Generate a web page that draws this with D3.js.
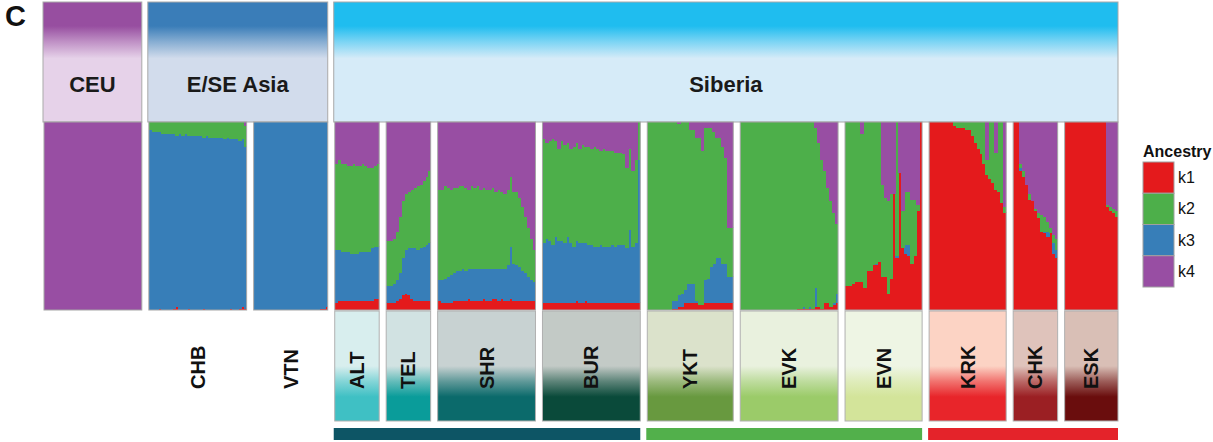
<!DOCTYPE html>
<html><head><meta charset="utf-8">
<script src="https://cdn.jsdelivr.net/npm/d3@7"></script>
<style>
body{margin:0;background:#fff;}
svg{display:block;font-family:"Liberation Sans",Arial,Helvetica,sans-serif;}
</style>
</head><body>
<svg id="chart" width="1213" height="442"></svg>
<script>
// ---------------- DATA ----------------
const populations = ["CEU","CHB","VTN","ALT","TEL","SHR","BUR","YKT","EVK","EVN","KRK","CHK","ESK"];
const regionOfPop = ["CEU","E/SE Asia","E/SE Asia","Siberia","Siberia","Siberia","Siberia","Siberia","Siberia","Siberia","Siberia","Siberia","Siberia"];
const regions = ["CEU","E/SE Asia","Siberia"];
const groupOfPop = [null,null,null,"A","A","A","A","B","B","B","C","C","C"];
const groups = ["A","B","C"];
const boxedLabel = [false,false,false,true,true,true,true,true,true,true,true,true,true];
const shownLabel = [false,true,true,true,true,true,true,true,true,true,true,true,true];
const ancestryKeys = ["k1","k2","k3","k4"];
// every individual below lists its shares top -> bottom as drawn: [k4, k2, k3, k1]
const tupleOrder = ["k4","k2","k3","k1"];
const stackOrder = ["k1","k3","k2","k4"]; // bottom -> top

const CEU = [[100,0,0,0],[100,0,0,0],[100,0,0,0],[100,0,0,0],[100,0,0,0],[100,0,0,0],[100,0,0,0],[100,0,0,0],[100,0,0,0],[100,0,0,0],[100,0,0,0],
  [100,0,0,0],[100,0,0,0],[100,0,0,0],[100,0,0,0],[100,0,0,0],[100,0,0,0],[100,0,0,0],[100,0,0,0],[100,0,0,0],[100,0,0,0],[100,0,0,0],
  [100,0,0,0],[100,0,0,0],[100,0,0,0],[100,0,0,0],[100,0,0,0],[100,0,0,0],[100,0,0,0],[100,0,0,0],[100,0,0,0],[100,0,0,0],[100,0,0,0]];
const CHB = [[0,4,96,0],[0,5,95,0],[0,5,95,0],[0,5,94,1],[0,6,94,0],[0,6,94,0],[0,6,94,0],[0,6,94,0],[0,6,93,1],[0,7,91,2],[0,6,94,0],
  [0,7,93,0],[0,6,94,0],[0,7,92,1],[0,7,93,0],[0,7,93,0],[0,7,93,0],[0,7,93,0],[0,8,91,1],[0,7,93,0],[0,8,92,0],[0,8,92,0],
  [0,8,92,0],[0,8,92,0],[0,8,92,0],[0,9,91,0],[0,8,92,0],[0,9,90,1],[0,9,91,0],[0,9,91,0],[0,10,89,1],[0,9,89,2],[2,11,86,1]];
const VTN = [[0,0,100,0],[0,0,100,0],[0,0,100,0],[0,0,100,0],[0,0,100,0],[0,0,100,0],[0,0,100,0],[0,0,100,0],[0,0,100,0],[0,0,100,0],
  [0,0,100,0],[0,0,100,0],[0,0,100,0],[0,0,100,0],[0,0,100,0],[0,0,100,0],[0,0,100,0],[0,0,100,0],[0,0,100,0],[0,0,100,0],
  [0,0,100,0],[0,0,100,0],[0,0,99,1],[0,0,99,1],[0,0,98,2]];
const ALT = [[22,46,28,4],[20,48,27,5],[22,47,26,5],[22,47,26,5],[23,46,26,5],[23,47,25,5],[22,48,25,5],[23,47,25,5],
  [23,46,26,5],[22,47,26,5],[23,46,26,5],[24,45,26,5],[24,43,28,5],[23,43,28,6],[22,44,28,6]];
const TEL = [[63,24,9,4],[63,24,9,4],[62,24,10,4],[58,26,11,5],[50,30,14,6],[42,30,20,8],[38,30,23,9],[37,30,25,8],
  [36,31,27,6],[35,32,28,5],[34,34,27,5],[33,34,28,5],[31,35,29,5],[29,36,30,5],[26,38,31,5]];
const SHR = [[36,48,11,5],[36,48,12,4],[34,49,13,4],[35,47,14,4],[36,45,15,4],[35,45,15,5],[35,44,16,5],[34,45,16,5],
  [34,44,17,5],[35,44,16,5],[36,42,16,6],[34,44,17,5],[35,43,17,5],[34,44,17,5],[36,42,17,5],[35,43,16,6],[36,42,17,5],
  [36,42,17,5],[35,43,16,6],[37,41,16,6],[36,42,17,5],[37,41,16,6],[38,40,17,5],[36,40,19,5],[29,37,28,6],[37,38,20,5],
  [37,39,19,5],[40,37,18,5],[45,34,16,5],[50,30,15,5],[56,26,13,5],[62,22,11,5],[68,17,10,5]];
const BUR = [[9,55,32,4],[11,51,34,4],[10,53,33,4],[9,56,31,4],[10,51,35,4],[14,49,33,4],[10,53,33,4],[12,52,32,4],
  [11,50,35,4],[14,50,32,4],[13,53,30,4],[11,52,32,5],[14,50,32,4],[12,52,32,4],[13,51,31,5],[13,52,31,4],[14,51,31,4],
  [13,53,30,4],[14,52,30,4],[15,50,31,4],[14,52,30,4],[15,51,30,4],[15,51,30,4],[15,50,31,4],[16,50,30,4],[16,49,31,4],
  [16,49,31,4],[17,48,31,4],[24,43,29,4],[14,43,39,4],[26,40,30,4],[20,44,32,4],[0,20,76,4]];
const YKT = [[0,100,0,0],[0,100,0,0],[0,100,0,0],[0,100,0,0],[0,100,0,0],[0,100,0,0],[0,100,0,0],[0,100,0,0],
  [0,95,4,1],[0,95,4,1],[1,91,6,2],[0,91,7,2],[0,89,7,4],[0,86,10,4],[4,82,10,4],[4,82,10,4],[8,87,1,4],[8,89,0,3],
  [15,82,0,3],[3,81,12,4],[3,80,13,4],[3,74,19,4],[5,70,21,4],[8,64,24,4],[8,64,24,4],[13,62,21,4],[19,56,21,4],
  [56,26,14,4],[56,26,14,4]];
const EVK = [[0,100,0,0],[0,100,0,0],[0,100,0,0],[0,100,0,0],[0,100,0,0],[0,100,0,0],[0,100,0,0],[0,100,0,0],[0,100,0,0],
  [0,100,0,0],[0,100,0,0],[0,100,0,0],[0,100,0,0],[0,100,0,0],[0,100,0,0],[0,100,0,0],[0,100,0,0],[0,100,0,0],[0,100,0,0],
  [0,99,0,1],[0,99,0,1],[0,98,1,1],[0,99,0,1],[0,98,1,1],[0,99,0,1],[3,85,10,2],[11,87,0,2],[20,79,0,1],[26,70,0,4],
  [35,61,0,4],[42,56,0,2],[48,48,1,3],[54,37,5,4]];
const EVN = [[0,87,0,13],[0,87,0,13],[0,86,0,14],[0,85,0,15],[0,85,0,15],[6,79,0,15],[0,88,0,12],[0,79,0,21],[0,79,0,21],
  [0,76,0,24],[0,75,1,24],[0,74,0,26],[33,49,0,18],[40,42,0,18],[42,49,0,9],[38,45,0,17],[38,0,0,62],[0,71,1,28],
  [27,0,0,73],[47,20,0,33],[37,28,5,30],[37,28,6,29],[41,34,0,25],[41,30,0,29],[44,3,0,53],[0,0,0,100]];
const KRK = [[0,0,0,100],[0,0,0,100],[0,0,0,100],[0,0,0,100],[0,0,0,100],[0,0,0,100],[0,0,0,100],[0,0,0,100],
  [0,2,0,98],[0,3,0,97],[0,3,0,97],[0,3,0,97],[0,4,0,96],[0,4,0,96],[0,7,0,93],[0,11,0,89],[0,14,0,86],[0,17,0,83],
  [0,22,0,78],[20,8,0,72],[0,30,0,70],[0,32,0,68],[16,20,0,64],[0,37,0,63],[0,43,0,57],[45,3,0,52]];
const CHK = [[0,0,0,100],[0,0,0,100],[22,2,2,74],[26,3,0,71],[33,0,0,67],[38,3,0,59],[42,0,0,58],[46,1,0,53],
  [48,3,0,49],[49,9,0,42],[50,8,1,41],[53,5,3,39],[56,3,0,41],[60,4,6,30],[62,6,4,28]];
const ESK = [[0,0,0,100],[0,0,0,100],[0,0,0,100],[0,0,0,100],[0,0,0,100],[0,0,0,100],[0,0,0,100],[0,0,0,100],[0,0,0,100],
  [0,0,0,100],[0,0,0,100],[0,0,0,100],[0,0,0,100],[0,0,0,100],[44,1,0,55],[45,2,0,53],[46,2,0,52],[47,3,0,50]];
const popData = [CEU,CHB,VTN,ALT,TEL,SHR,BUR,YKT,EVK,EVN,KRK,CHK,ESK];

// ---------------- STYLE ----------------
const ancestryColor = d3.scaleOrdinal().domain(ancestryKeys).range(["#e41a1c","#4daf4a","#377eb8","#984ea3"]);
const regionTop = {"CEU":"#974ea0","E/SE Asia":"#3a7db8","Siberia":"#1fbdef"};
const regionBottom = {"CEU":"#e6d2e9","E/SE Asia":"#d2dcec","Siberia":"#d6ebf8"};
const labelTop = ["#fff","#fff","#fff","#d8eeee","#d1e2e2","#c8d2d2","#c3cac6","#dbe2cb","#e9f1de","#eef5e4","#fcd3c4","#dfc3bb","#d9bfb6"];
const labelBottom = ["#fff","#fff","#fff","#3fc0c4","#0a9c9a","#0b6a6b","#0a4a3a","#68993f","#9bcb69","#d3e49a","#e8252a","#9b1f23","#6a0d0d"];
const groupColor = {"A":"#0d5565","B":"#52b04b","C":"#e4232a"};

// ---------------- LAYOUT ----------------
const svg = d3.select("#chart");
const defs = svg.append("defs");
const plotLeft = 44, plotRight = 1118, gapPx = 7;
const panelTop = 122, panelBottom = 310;
const sizes = popData.map(d => d.length);
const total = d3.sum(sizes);
const unitScale = d3.scaleLinear().domain([0, total]).range([0, (plotRight - plotLeft) - gapPx * (populations.length - 1)]);
const cum = d3.cumsum([0, ...sizes]);
const panels = populations.map((p, i) => ({
  name: p, i,
  x0: plotLeft + unitScale(cum[i]) + i * gapPx,
  x1: plotLeft + unitScale(cum[i + 1]) + i * gapPx
}));
const y = d3.scaleLinear().domain([0, 100]).range([panelBottom, panelTop]);

// "C" panel letter
svg.append("text").attr("x", 5).attr("y", 26).attr("font-size", 29).attr("font-weight", "bold").attr("fill", "#111").text("C");

// Region headers
function vGrad(id, stops) {
  const g = defs.append("linearGradient").attr("id", id).attr("x1", 0).attr("y1", 0).attr("x2", 0).attr("y2", 1);
  stops.forEach(s => g.append("stop").attr("offset", s[0]).attr("stop-color", s[1]));
  return `url(#${id})`;
}
regions.forEach((r, ri) => {
  const ps = panels.filter(p => regionOfPop[p.i] === r);
  const x0 = d3.min(ps, p => p.x0) - 1, x1 = d3.max(ps, p => p.x1);
  const fill = vGrad("rg" + ri, [[0, regionTop[r]], [0.2, regionTop[r]], [0.33, d3.interpolateRgb(regionTop[r], regionBottom[r])(0.5)], [0.47, regionBottom[r]], [1, regionBottom[r]]]);
  svg.append("rect").attr("x", x0).attr("y", 2).attr("width", x1 - x0).attr("height", panelTop - 2)
    .attr("fill", fill).attr("stroke", "#a9a9a9").attr("stroke-width", 1);
  svg.append("text").attr("x", (x0 + x1) / 2).attr("y", 92).attr("text-anchor", "middle")
    .attr("font-size", 22).attr("font-weight", "bold").attr("fill", "#1a1a1a").text(r);
});

// Stacked ancestry bars
const stackGen = d3.stack().keys(stackOrder);
panels.forEach(p => {
  const records = popData[p.i].map(t => {
    const o = {};
    tupleOrder.forEach((k, j) => o[k] = t[j]);
    return o;
  });
  const series = stackGen(records);
  const xb = d3.scaleBand().domain(d3.range(records.length)).range([p.x0, p.x1]).padding(0);
  defs.append("clipPath").attr("id", "clip" + p.i).append("rect")
    .attr("x", p.x0).attr("y", panelTop).attr("width", p.x1 - p.x0).attr("height", panelBottom - panelTop);
  const g = svg.append("g").attr("clip-path", `url(#clip${p.i})`).attr("shape-rendering", "crispEdges");
  series.forEach(s => {
    g.selectAll(null).data(s.filter(d => d[1] - d[0] > 0).map(d => ({d, i: s.indexOf(d)}))).join("rect")
      .attr("x", e => xb(e.i))
      .attr("width", xb.bandwidth() + 0.8)
      .attr("y", e => y(e.d[1]))
      .attr("height", e => y(e.d[0]) - y(e.d[1]) + 0.5)
      .attr("fill", ancestryColor(s.key));
  });
  svg.append("rect").attr("x", p.x0).attr("y", panelTop).attr("width", p.x1 - p.x0).attr("height", panelBottom - panelTop)
    .attr("fill", "none").attr("stroke", "#a5a5a5").attr("stroke-width", 1);
});

// Population labels
panels.forEach(p => {
  if (boxedLabel[p.i]) {
    const fill = vGrad("lg" + p.i, [[0, labelTop[p.i]], [0.5, labelTop[p.i]], [0.64, d3.interpolateRgb(labelTop[p.i], labelBottom[p.i])(0.55)], [0.78, labelBottom[p.i]], [1, labelBottom[p.i]]]);
    svg.append("rect").attr("x", p.x0).attr("y", 311).attr("width", p.x1 - p.x0).attr("height", 110)
      .attr("fill", fill).attr("stroke", "#b0b0b0").attr("stroke-width", 1);
  }
  if (shownLabel[p.i]) {
    const cx = (p.x0 + p.x1) / 2;
    svg.append("text").attr("transform", `translate(${cx},389) rotate(-90)`)
      .attr("dominant-baseline", "central").attr("text-anchor", "start")
      .attr("font-size", 20).attr("font-weight", "bold").attr("fill", "#111").text(p.name);
  }
});

// Group bars at the bottom
groups.forEach(gk => {
  const ps = panels.filter(p => groupOfPop[p.i] === gk);
  const x0 = d3.min(ps, p => p.x0) - 1, x1 = d3.max(ps, p => p.x1);
  svg.append("rect").attr("x", x0).attr("y", 428).attr("width", x1 - x0).attr("height", 12).attr("fill", groupColor[gk]);
});

// Legend
const lg = svg.append("g").attr("transform", "translate(1143,0)");
lg.append("text").attr("x", 0).attr("y", 157).attr("font-size", 16).attr("font-weight", "bold").attr("fill", "#111").text("Ancestry");
const ly = d3.scaleBand().domain(ancestryKeys).range([162, 287]);
lg.selectAll("rect.leg").data(ancestryKeys).join("rect").attr("class", "leg")
  .attr("x", 0).attr("y", d => ly(d)).attr("width", 31).attr("height", ly.bandwidth())
  .attr("fill", d => ancestryColor(d)).attr("stroke", "#a0a0a0").attr("stroke-width", 1);
lg.selectAll("text.leg").data(ancestryKeys).join("text").attr("class", "leg")
  .attr("x", 35).attr("y", d => ly(d) + ly.bandwidth() / 2).attr("dominant-baseline", "central")
  .attr("font-size", 16).attr("fill", "#111").text(d => d);
</script>
</body></html>
